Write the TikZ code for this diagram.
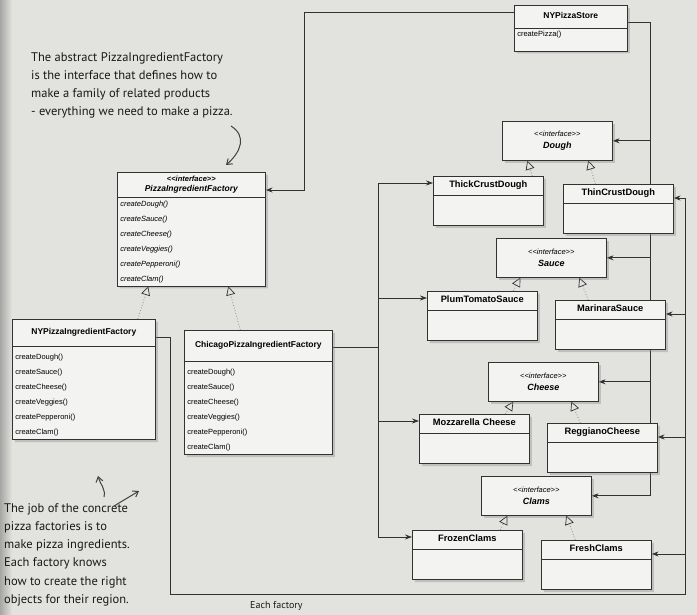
\documentclass[tikz,border=0pt]{standalone}
\usepackage{fontspec}
\setmainfont{Liberation Sans}
\newfontfamily\notefont{PT Sans}
\usetikzlibrary{arrows.meta, shapes.multipart, shadows}

\definecolor{paper}{RGB}{226,226,222}
\definecolor{boxfill}{RGB}{243,243,241}
\definecolor{ink}{RGB}{50,50,50}

% << and >> without the tex-text ligature
\newcommand{\stereo}[1]{<\kern0pt<#1>\kern0pt>}
\newcommand{\hstrut}{\rule[-4pt]{0pt}{12pt}}
\newcommand{\bodystrut}{\rule{0pt}{24pt}\par}
\newcommand{\methodfont}{\fontsize{7.5}{15}\selectfont}
\newcommand{\prodname}[1]{\centering\fontsize{9.3}{10}\selectfont\bfseries #1\hstrut\par}
\newcommand{\ifacename}[1]{{\fontsize{7.5}{11}\selectfont\itshape\stereo{interface}}\\{\fontsize{9}{12}\selectfont\textbf{\textit{#1}}}}

\pgfdeclarelayer{paperlayer}
\pgfdeclarelayer{wirelayer}
\pgfsetlayers{paperlayer,wirelayer,main}

\tikzset{
    classbox/.style={rectangle split, rectangle split parts=2, anchor=north west,
        draw=ink, fill=boxfill, line width=0.6pt,
        drop shadow={opacity=0.35, shadow xshift=2.5pt, shadow yshift=-2.5pt},
        inner xsep=3pt, inner ysep=3pt, text width=#1,
        font=\fontsize{8.5}{10}\selectfont},
    ifacebox/.style={rectangle, anchor=north west, draw=ink, fill=boxfill, line width=0.6pt,
        drop shadow={opacity=0.35, shadow xshift=2.5pt, shadow yshift=-2.5pt},
        align=center, inner sep=2pt, minimum width=110pt, minimum height=39pt,
        font=\fontsize{8.5}{12}\selectfont},
    wire/.style={line width=0.8pt, draw=ink},
    assoc/.style={wire, -{Stealth[length=7pt, width=5pt]}},
    realize/.style={line width=0.8pt, draw=black!45, dotted,
        -{Triangle[open, length=9pt, width=9pt, color=ink, line width=0.7pt]}},
    note/.style={anchor=north west, align=left, inner sep=0pt, text=black!90,
        font=\notefont\fontsize{12.5}{18.3}\selectfont},
    hand/.style={line width=1pt, draw=black!75, -{Straight Barb[length=5pt, width=7pt]}},
}

\begin{document}
\begin{tikzpicture}[x=1pt, y=-1pt]
    \clip[use as bounding box] (0,0) rectangle (697,615);
    \begin{pgfonlayer}{paperlayer}
        \fill[paper] (0,0) rectangle (697,615);
        \shade[left color=black!35, right color=paper] (0,0) rectangle (12,615);
    \end{pgfonlayer}

    % factories
    \node[classbox=107pt] (store) at (514,5)
        {\centering\bfseries NYPizzaStore\rule[-6pt]{0pt}{16pt}\par
         \nodepart{second}\methodfont createPizza()\rule[-11pt]{0pt}{11pt}\par};
    \node[classbox=142pt] (pif) at (117,172)
        {\centering\bfseries\itshape {\fontsize{7.5}{12}\selectfont\stereo{interface}}\\PizzaIngredientFactory\rule[-3pt]{0pt}{3pt}\par
         \nodepart{second}\methodfont\itshape createDough()\\createSauce()\\createCheese()\\createVeggies()\\createPepperoni()\\createClam()\par};
    \node[classbox=137pt] (nyf) at (12,319)
        {\centering\bfseries NYPizzaIngredientFactory\rule[-8pt]{0pt}{20pt}\par
         \nodepart{second}\methodfont\strut createDough()\\createSauce()\\createCheese()\\createVeggies()\\createPepperoni()\\createClam()\par};
    \node[classbox=142pt] (chf) at (184,330)
        {\centering\bfseries ChicagoPizzaIngredientFactory\rule[-10pt]{0pt}{24pt}\par
         \nodepart{second}\methodfont\strut createDough()\\createSauce()\\createCheese()\\createVeggies()\\createPepperoni()\\createClam()\par};

    % ingredients
    \node[ifacebox] (dough) at (502,121) {\ifacename{Dough}};
    \node[classbox=104pt] (thick) at (433,176) {\prodname{ThickCrustDough}\nodepart{second}\bodystrut};
    \node[classbox=104pt] (thin) at (563,184) {\prodname{ThinCrustDough}\nodepart{second}\bodystrut};

    \node[ifacebox] (sauce) at (496,238) {\ifacename{Sauce}};
    \node[classbox=104pt] (plum) at (427,291) {\prodname{PlumTomatoSauce}\nodepart{second}\bodystrut};
    \node[classbox=104pt] (marinara) at (555,300) {\prodname{MarinaraSauce}\nodepart{second}\bodystrut};

    \node[ifacebox] (cheese) at (488,362) {\ifacename{Cheese}};
    \node[classbox=104pt] (mozz) at (419,414) {\prodname{Mozzarella Cheese}\nodepart{second}\bodystrut};
    \node[classbox=104pt] (regg) at (547,423) {\prodname{ReggianoCheese}\nodepart{second}\bodystrut};

    \node[ifacebox] (clams) at (481,476) {\ifacename{Clams}};
    \node[classbox=104pt] (frozen) at (412,530) {\prodname{FrozenClams}\nodepart{second}\bodystrut};
    \node[classbox=104pt] (fresh) at (541,540) {\prodname{FreshClams}\nodepart{second}\bodystrut};

    % entry points
    \coordinate (pifIn) at ([yshift=-18pt]pif.north east);
    \coordinate (thinIn) at ([yshift=-14pt]thin.north east);
    \coordinate (marIn) at ([yshift=-14pt]marinara.north east);
    \coordinate (regIn) at ([yshift=-14pt]regg.north east);
    \coordinate (freIn) at ([yshift=-14pt]fresh.north east);
    \coordinate (thkIn) at ([yshift=-7pt]thick.north west);
    \coordinate (plmIn) at ([yshift=-7pt]plum.north west);
    \coordinate (mozIn) at ([yshift=-7pt]mozz.north west);
    \coordinate (froIn) at ([yshift=-7pt]frozen.north west);

    \coordinate (stA) at (304,12);
    \coordinate (stB) at (650,22);
    \coordinate (nyA) at (170,337);
    \coordinate (nyB) at (685,594);
    \coordinate (chA) at (378,347);

    \begin{pgfonlayer}{wirelayer}
        % store uses the factory and the ingredients
        \draw[assoc] (store.west |- stA) -- (stA) |- (pifIn);
        \draw[wire] (store.east |- stB) -- (stB) -- (stB |- clams.east);
        \draw[assoc] (stB |- dough.east) -- (dough.east);
        \draw[assoc] (stB |- sauce.east) -- (sauce.east);
        \draw[assoc] (stB |- cheese.east) -- (cheese.east);
        \draw[assoc] (stB |- clams.east) -- (clams.east);

        % NY factory
        \draw[wire] (nyf.east |- nyA) -- (nyA) |- (nyB) -- (nyB |- thinIn);
        \draw[assoc] (nyB |- thinIn) -- (thinIn);
        \draw[assoc] (nyB |- marIn) -- (marIn);
        \draw[assoc] (nyB |- regIn) -- (regIn);
        \draw[assoc] (nyB |- freIn) -- (freIn);

        % Chicago factory
        \draw[wire] (chf.east |- chA) -- (chA);
        \draw[wire] (chA |- thkIn) -- (chA |- froIn);
        \draw[assoc] (chA |- thkIn) -- (thkIn);
        \draw[assoc] (chA |- plmIn) -- (plmIn);
        \draw[assoc] (chA |- mozIn) -- (mozIn);
        \draw[assoc] (chA |- froIn) -- (froIn);

        % implementations
        \draw[realize] ([xshift=54pt]nyf.north) -- ([xshift=-43pt]pif.south);
        \draw[realize] ([xshift=-18pt]chf.north) -- ([xshift=37pt]pif.south);
        \draw[realize] ([xshift=44pt]thick.north) -- ([xshift=-30pt]dough.south);
        \draw[realize] ([xshift=-23pt]thin.north) -- ([xshift=31pt]dough.south);
        \draw[realize] ([xshift=31pt]plum.north) -- ([xshift=-31pt]sauce.south);
        \draw[realize] ([xshift=-22pt]marinara.north) -- ([xshift=28pt]sauce.south);
        \draw[realize] ([xshift=31pt]mozz.north) -- ([xshift=-30pt]cheese.south);
        \draw[realize] ([xshift=-22pt]regg.north) -- ([xshift=28pt]cheese.south);
        \draw[realize] ([xshift=33pt]frozen.north) -- ([xshift=-29pt]clams.south);
        \draw[realize] ([xshift=-21pt]fresh.north) -- ([xshift=30pt]clams.south);
    \end{pgfonlayer}

    % notes
    \node[note] (topnote) at (31,52) {The abstract PizzaIngredientFactory\\is the interface that defines how to\\make a family of related products\\- everything we need to make a pizza.};
    \node[note] (botnote) at (4,503) {The job of the concrete\\pizza factories is to\\make pizza ingredients.\\Each factory knows\\how to create the right\\objects for their region.};
    \node[note, font=\notefont\fontsize{10}{12}\selectfont] (cutnote) at (250,601) {Each factory};

    \coordinate (topTail) at (231,126);
    \coordinate (topTip) at (226,165);
    \coordinate (botTailA) at (104,497);
    \coordinate (botTipA) at (98,476);
    \coordinate (botTailB) at (114,506);
    \coordinate (botTipB) at (139,491);
    \draw[hand] (topTail) .. controls (247,136) and (241,152) .. (topTip);
    \draw[hand] (botTailA) .. controls (106,489) and (100,484) .. (botTipA);
    \draw[hand] (botTailB) -- (botTipB);
\end{tikzpicture}
\end{document}
